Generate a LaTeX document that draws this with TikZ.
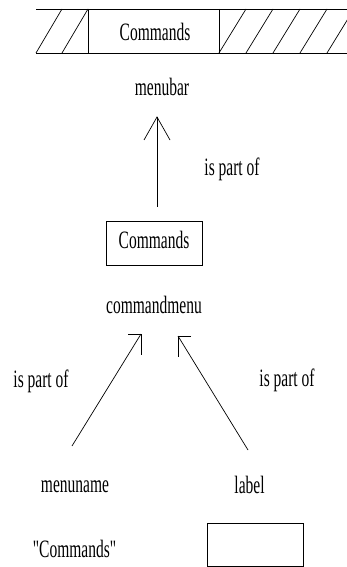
\documentclass[tikz,border=0pt]{standalone}
\usepackage{fontspec}
\setmainfont{Liberation Serif}[FakeStretch=0.62]
\usetikzlibrary{calc}

\begin{document}
\begin{tikzpicture}[x=1pt, y=-1pt, line width=0.7pt,
        every node/.style={inner sep=0pt, font=\fontsize{25}{30}\selectfont},
        wbox/.style={draw, minimum width=96pt, text height=14pt, text depth=4pt}]
        \useasboundingbox (0,0) rectangle (347,567);
        % menu bar
        \draw (36,9) -- (347,9);
        \draw (36,53) -- (347,53);
        \draw (88,9) -- (88,53);
        \draw (219,9) -- (219,53);
        \begin{scope}
            \clip (0,9) rectangle (347,53);
            \foreach \x in {36,62} \draw (\x,53) -- ++(26,-44);
            \foreach \x in {219,246,...,327} \draw (\x,53) -- ++(27,-44);
        \end{scope}
        \node[anchor=base] (bar) at (155,41) {Commands};
        \node[anchor=base] (menubar) at (162,96) {menubar};

        \node[wbox, minimum height=44pt] (cmdbox) at (154,243) {Commands};
        \node[anchor=base] (cmdmenu) at (154,313) {commandmenu};
        \node[anchor=base] (part1) at (232,175) {is part of};

        \node[anchor=base] (part2) at (41,387) {is part of};
        \node[anchor=base] (part3) at (287,386) {is part of};
        \node[anchor=base] (menuname) at (75,492) {menuname};
        \node[anchor=base] (label) at (249.5,493) {label};
        \node[anchor=base] (cmdname) at (74.5,557) {\addfontfeature{Ligatures=TeXOff}"Commands"};
        \node[wbox, minimum height=43pt] (lblbox) at (255,544.5) {};

        \coordinate (upTail) at ($(cmdbox.north)+(3,-14)$);
        \coordinate (upTip) at ($(menubar.base)+(-5,21)$);
        \coordinate (lTail) at ($(menuname.base)+(-3,-46)$);
        \coordinate (lTip) at ($(cmdmenu.base)+(-13,21)$);
        \coordinate (rTail) at ($(label.base)+(-1.5,-43)$);
        \coordinate (rTip) at ($(cmdmenu.base)+(24,23)$);
        \draw (upTail) -- (upTip);
        \draw ($(upTip)+(-13,23)$) -- (upTip) -- ($(upTip)+(13,23)$);
        \draw (lTail) -- (lTip);
        \draw ($(lTip)+(-13,0)$) -- (lTip) -- ($(lTip)+(0,21)$);
        \draw (rTail) -- (rTip);
        \draw ($(rTip)+(13,0)$) -- (rTip) -- ($(rTip)+(0,21)$);
    \end{tikzpicture}
\end{document}
